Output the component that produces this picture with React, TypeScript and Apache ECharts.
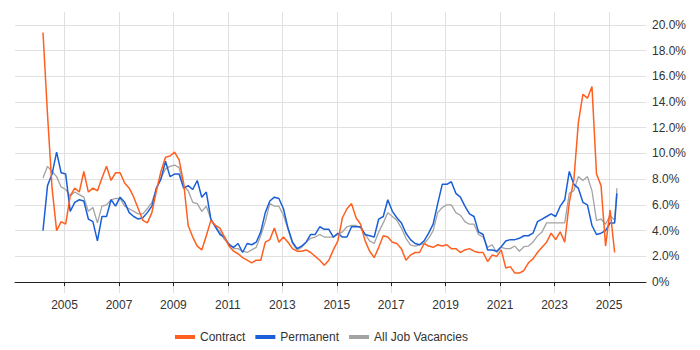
import React, { useEffect, useRef } from "react";
import * as echarts from "echarts";

const months: string[] = [
  "2004-03", "2004-05", "2004-07", "2004-09", "2004-11",
  "2005-01", "2005-03", "2005-05", "2005-07", "2005-09", "2005-11",
  "2006-01", "2006-03", "2006-05", "2006-07", "2006-09", "2006-11",
  "2007-01", "2007-03", "2007-05", "2007-07", "2007-09", "2007-11",
  "2008-01", "2008-03", "2008-05", "2008-07", "2008-09", "2008-11",
  "2009-01", "2009-03", "2009-05", "2009-07", "2009-09", "2009-11",
  "2010-01", "2010-03", "2010-05", "2010-07", "2010-09", "2010-11",
  "2011-01", "2011-03", "2011-05", "2011-07", "2011-09", "2011-11",
  "2012-01", "2012-03", "2012-05", "2012-07", "2012-09", "2012-11",
  "2013-01", "2013-03", "2013-05", "2013-07", "2013-09", "2013-11",
  "2014-01", "2014-03", "2014-05", "2014-07", "2014-09", "2014-11",
  "2015-01", "2015-03", "2015-05", "2015-07", "2015-09", "2015-11",
  "2016-01", "2016-03", "2016-05", "2016-07", "2016-09", "2016-11",
  "2017-01", "2017-03", "2017-05", "2017-07", "2017-09", "2017-11",
  "2018-01", "2018-03", "2018-05", "2018-07", "2018-09", "2018-11",
  "2019-01", "2019-03", "2019-05", "2019-07", "2019-09", "2019-11",
  "2020-01", "2020-03", "2020-05", "2020-07", "2020-09", "2020-11",
  "2021-01", "2021-03", "2021-05", "2021-07", "2021-09", "2021-11",
  "2022-01", "2022-03", "2022-05", "2022-07", "2022-09", "2022-11",
  "2023-01", "2023-03", "2023-05", "2023-07", "2023-09", "2023-11",
  "2024-01", "2024-03", "2024-05", "2024-07", "2024-09", "2024-11",
  "2025-01", "2025-03", "2025-04",
];

const contract: (number | null)[] = [
  19.4, 13.0, 7.3, 4.0, 4.7,
  4.5, 6.7, 7.3, 7.0, 8.6, 7.0,
  7.3, 7.1, 8.1, 9.0, 7.9, 8.5,
  8.5, 7.7, 7.3, 6.6, 5.7, 4.8,
  4.6, 5.4, 7.1, 8.6, 9.7, 9.8,
  10.1, 9.5, 7.7, 4.4, 3.5, 2.8,
  2.5, 3.6, 4.8, 4.4, 4.2, 3.5,
  2.8, 2.4, 2.2, 1.9, 1.7, 1.5,
  1.7, 1.7, 3.1, 3.3, 4.2, 3.1,
  3.5, 3.1, 2.6, 2.4, 2.4, 2.5,
  2.3, 2.0, 1.7, 1.3, 1.7, 2.5,
  3.2, 5.0, 5.7, 6.1, 5.0, 4.5,
  3.2, 2.4, 1.9, 2.7, 3.6, 3.5,
  3.1, 3.0, 2.6, 1.7, 2.1, 2.3,
  2.3, 3.0, 2.8, 2.7, 2.9, 2.8,
  2.9, 2.6, 2.6, 2.3, 2.5, 2.6,
  2.4, 2.3, 2.3, 1.6, 2.1, 2.0,
  2.5, 1.1, 1.2, 0.7, 0.7, 0.9,
  1.5, 1.8, 2.3, 2.7, 3.1, 3.8,
  3.3, 3.9, 3.1, 6.2, 7.9, 12.4,
  14.6, 14.3, 15.2, 8.4, 7.5, 2.8,
  5.6, 2.3, null,
];

const permanent: number[] = [
  4.0, 7.5, 8.4, 10.1, 8.5,
  8.4, 5.5, 6.2, 6.4, 6.3, 4.9,
  4.7, 3.2, 5.1, 5.1, 6.4, 5.9,
  6.6, 6.2, 5.4, 5.1, 4.9, 5.0,
  5.4, 5.9, 7.3, 8.0, 9.4, 8.2,
  8.4, 8.4, 7.3, 7.5, 7.2, 7.9,
  6.6, 7.0, 4.9, 4.3, 3.7, 3.5,
  2.9, 2.7, 3.0, 2.3, 3.0, 2.9,
  3.1, 3.9, 5.4, 6.3, 6.6, 6.5,
  5.7, 4.2, 3.1, 2.6, 2.8, 3.1,
  3.7, 3.7, 4.3, 4.1, 4.1, 3.5,
  3.8, 3.5, 3.5, 4.3, 4.3, 4.3,
  3.7, 3.6, 3.5, 4.9, 5.1, 6.4,
  5.5, 5.0, 4.6, 3.8, 3.3, 3.0,
  2.9, 3.2, 3.8, 4.5, 6.1, 7.6,
  7.6, 7.8, 6.9, 6.6, 5.9, 5.3,
  5.1, 3.9, 3.7, 2.5, 2.5, 2.4,
  2.75, 3.2, 3.3, 3.3, 3.4, 3.6,
  3.6, 3.8, 4.7, 4.9, 5.1, 5.3,
  5.1, 5.9, 6.4, 8.6, 7.6, 7.3,
  6.2, 6.0, 4.4, 3.7, 3.8, 4.0,
  4.6, 4.6, 6.9,
];

const allJobs: number[] = [
  8.1, 9.0, 8.6, 8.2, 7.4,
  7.2, 6.7, 7.0, 6.8, 6.6, 5.5,
  5.8, 4.6, 5.9, 6.0, 6.4, 6.5,
  6.5, 5.9, 5.7, 5.5, 5.3, 5.3,
  5.7, 6.2, 7.3, 8.1, 8.8, 9.0,
  9.1, 8.9, 7.5, 7.1, 6.2, 6.1,
  5.5, 5.9, 4.9, 4.3, 3.9, 3.3,
  3.0, 2.6, 2.6, 2.4, 2.3, 2.5,
  2.7, 3.6, 4.7, 6.1, 5.9, 5.9,
  5.2, 4.1, 3.0, 2.5, 2.7, 3.1,
  3.4, 3.5, 3.7, 3.5, 3.5, 3.5,
  3.7, 3.9, 4.3, 4.4, 4.4, 4.2,
  3.7, 3.2, 3.0, 3.9, 4.6, 5.4,
  5.1, 4.8, 4.2, 3.4, 2.9, 2.8,
  2.9, 3.0, 3.4, 4.0, 5.4, 5.8,
  6.0, 6.0, 5.4, 5.2, 4.7, 4.5,
  4.5, 3.7, 3.5, 2.7, 2.9, 2.3,
  2.7, 2.6, 2.6, 2.8, 2.4, 2.75,
  2.8, 3.1, 3.6, 3.9, 4.6, 4.6,
  4.6, 4.6, 4.6, 6.9, 7.1, 8.2,
  7.9, 8.2, 7.1, 4.8, 4.9, 4.5,
  5.2, 4.8, 7.3,
];

const yearTicks: number[] = [2005, 2007, 2009, 2011, 2013, 2015, 2017, 2019, 2021, 2023, 2025];
const percentTicks: number[] = [0, 2, 4, 6, 8, 10, 12, 14, 16, 18, 20];

const seriesNames = ["Contract", "Permanent", "All Job Vacancies"];
const seriesColors = ["#ff5f1f", "#1a5fd8", "#a3a3a3"];

function toYear(d: string): number {
  const [y, m] = d.split("-").map(Number);
  return y + (m - 0.5) / 12;
}

function pairs(values: (number | null)[]): [number, number][] {
  const out: [number, number][] = [];
  values.forEach((v, i) => {
    if (v !== null && v !== undefined) out.push([toYear(months[i]), v]);
  });
  return out;
}

const FONT = 'Arial, "Liberation Sans", sans-serif';

export default function App() {
  const ref = useRef<HTMLDivElement>(null);
  useEffect(() => {
    if (!ref.current) return;
    const chart = echarts.init(ref.current, undefined, { renderer: "svg" });
    const data = [contract, permanent, allJobs];
    chart.setOption({
      animation: false,
      textStyle: { fontFamily: FONT },
      grid: { left: 15, right: 54, top: 12, bottom: 57, containLabel: false },
      legend: {
        data: seriesNames,
        left: 170,
        top: 326,
        icon: "rect",
        itemWidth: 20,
        itemHeight: 4,
        itemGap: 10,
        textStyle: { fontSize: 12, color: "#333", fontFamily: FONT },
      },
      xAxis: {
        type: "value",
        min: 2003.18,
        max: 2026.36,
        axisLine: { show: true, lineStyle: { color: "#222", width: 1 } },
        axisTick: { show: true, customValues: yearTicks, length: 4, lineStyle: { color: "#222" } },
        axisLabel: {
          customValues: yearTicks,
          formatter: (v: number) => String(Math.round(v)),
          fontSize: 12,
          color: "#333",
          margin: 6,
          fontFamily: FONT,
        },
        splitLine: { show: true, lineStyle: { color: "#e0e0e0", width: 1 } },
      },
      yAxis: {
        type: "value",
        position: "right",
        min: -0.85,
        max: 21,
        axisLine: { show: false },
        axisTick: { show: false, customValues: percentTicks },
        axisLabel: {
          customValues: percentTicks,
          formatter: (v: number) => (Math.abs(v) < 1e-9 ? "0%" : v.toFixed(1) + "%"),
          fontSize: 12,
          color: "#333",
          margin: 6,
          fontFamily: FONT,
        },
        splitLine: { show: true, lineStyle: { color: "#e0e0e0", width: 1 } },
      },
      series: seriesNames.map((name, i) => ({
        name,
        type: "line",
        data: pairs(data[i]),
        showSymbol: false,
        symbol: "none",
        z: i === 2 ? 1 : i === 1 ? 2 : 3,
        lineStyle: { color: seriesColors[i], width: i === 2 ? 1.3 : 1.5 },
        itemStyle: { color: seriesColors[i] },
      })),
    });
    return () => chart.dispose();
  }, []);
  return <div ref={ref} style={{ width: 700, height: 350, position: "absolute", left: 0, top: 0 }} />;
}
